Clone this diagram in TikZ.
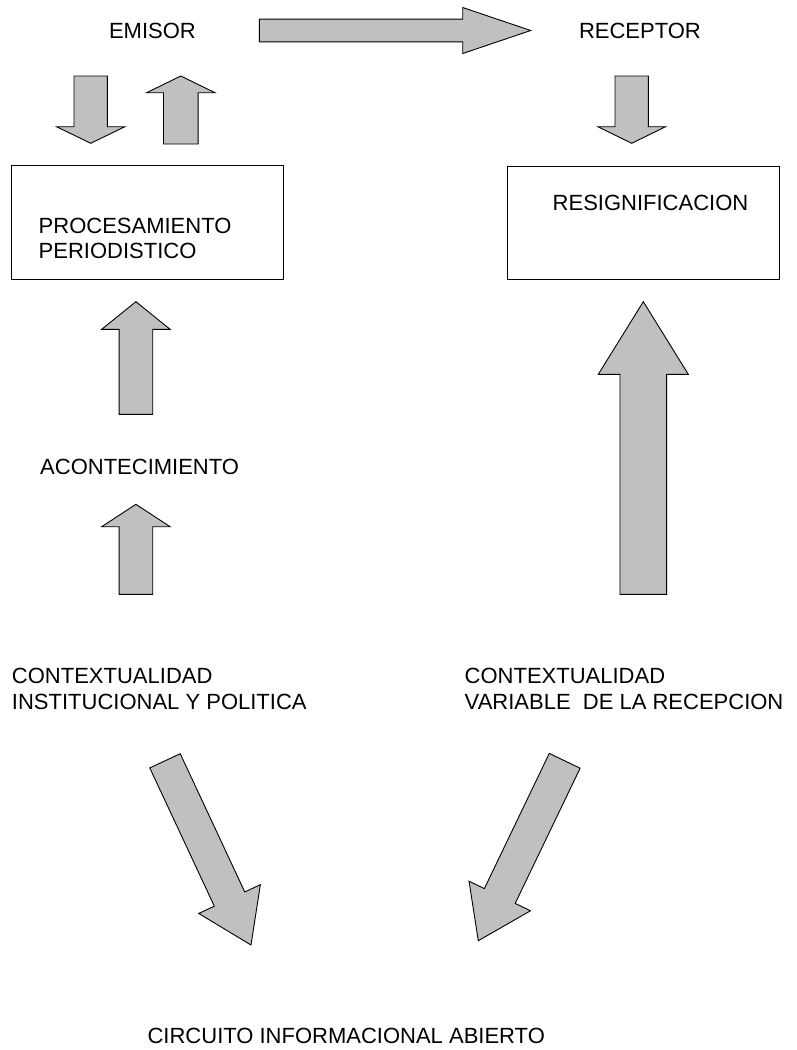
\documentclass[tikz,border=0pt]{standalone}
\usepackage{fontspec}
\setmainfont{Liberation Sans}
\usetikzlibrary{calc}
\definecolor{arrowgray}{RGB}{192,192,192}
\tikzset{
  blockarrow/.style={draw=black, fill=arrowgray, line width=0.9pt, line join=miter},
  framebox/.style={draw=black, line width=0.9pt, rectangle, inner sep=0pt},
  lbl/.style={inner sep=0pt, anchor=base west, align=left, font=\fontsize{22}{25.5}\selectfont}
}
% #1 tail centre, #2 tip, #3 shaft half width, #4 head half width, #5 head length
\newcommand{\blockarrowdraw}[5]{%
  \coordinate (ba-h) at ($(#2)!#5!(#1)$);
  \draw[blockarrow] ($(#1)!#3!90:(#2)$) -- ($(ba-h)!#3!90:(#2)$) -- ($(ba-h)!#4!90:(#2)$)
    -- (#2) -- ($(ba-h)!#4!-90:(#2)$) -- ($(ba-h)!#3!-90:(#2)$) -- ($(#1)!#3!-90:(#2)$) -- cycle;
}
\begin{document}
\begin{tikzpicture}[x=1pt,y=-1pt]
\useasboundingbox (0,0) rectangle (796,1050);

% boxes
\node[framebox, minimum width=271.6pt, minimum height=113.3pt] (procbox) at (147.5,222.35) {};
\node[framebox, minimum width=271.7pt, minimum height=112.3pt] (resigbox) at (643.15,222.85) {};

% texts (base anchor of a multi-line node is the last line's baseline)
\node[lbl] (emisor) at (108.8,38.3) {EMISOR};
\node[lbl] (receptor) at (578.8,38.3) {RECEPTOR};
\node[lbl] (proc) at (38.5,258.6) {PROCESAMIENTO\\PERIODISTICO};
\node[lbl] (resig) at (552.5,210.7) {RESIGNIFICACION};
\node[lbl] (acont) at (40,474) {ACONTECIMIENTO};
\node[lbl] (ctxl) at (11.8,709) {CONTEXTUALIDAD\\INSTITUCIONAL Y POLITICA};
\node[lbl] (ctxr) at (464.5,709) {CONTEXTUALIDAD\\VARIABLE\ \ DE LA RECEPCION};
\node[lbl] (circ) at (147.4,1043.3) {CIRCUITO INFORMACIONAL ABIERTO};

% arrow end points
\coordinate (a1t) at (259.3,30.5);  \coordinate (a1h) at (530.7,30.5);
\coordinate (a2t) at (90.7,76);     \coordinate (a2h) at (90.7,143.3);
\coordinate (a3t) at (180.8,144);   \coordinate (a3h) at (180.8,76);
\coordinate (a4t) at (631.7,76);    \coordinate (a4h) at (631.7,143.3);
\coordinate (a5t) at (135.9,414.3); \coordinate (a5h) at (135.9,301.7);
\coordinate (a6t) at (135.9,594.3); \coordinate (a6h) at (135.9,504.3);
\coordinate (a7t) at (643.3,594.3); \coordinate (a7h) at (643.3,301.7);
\coordinate (a8t) at (165,760.8);   \coordinate (a8h) at (251,945);
\coordinate (a9t) at (564.7,760.8); \coordinate (a9h) at (478.3,940.7);

% block arrows
\blockarrowdraw{a1t}{a1h}{11.35pt}{23pt}{68pt}
\blockarrowdraw{a2t}{a2h}{16.7pt}{34.2pt}{16.6pt}
\blockarrowdraw{a3t}{a3h}{17.3pt}{34.2pt}{16.7pt}
\blockarrowdraw{a4t}{a4h}{16.7pt}{33.9pt}{16.6pt}
\blockarrowdraw{a5t}{a5h}{16.85pt}{34.2pt}{27.6pt}
\blockarrowdraw{a6t}{a6h}{16.85pt}{34.2pt}{22.4pt}
\blockarrowdraw{a7t}{a7h}{23.35pt}{45pt}{72.6pt}
\blockarrowdraw{a8t}{a8h}{16.8pt}{34pt}{50.7pt}
\blockarrowdraw{a9t}{a9h}{17.1pt}{34.1pt}{49.6pt}
\end{tikzpicture}
\end{document}
